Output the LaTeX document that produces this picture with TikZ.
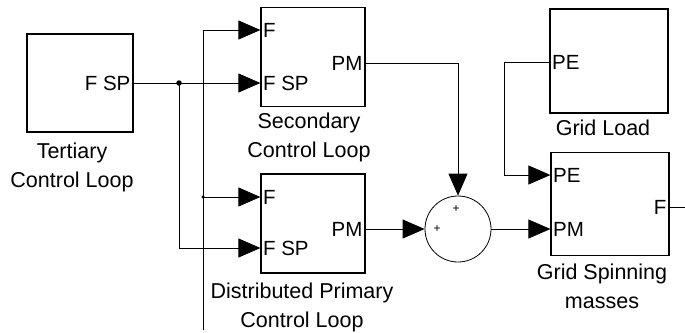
\documentclass[tikz,border=0pt]{standalone}
\usepackage{fontspec}
\setmainfont{Liberation Sans}
\usetikzlibrary{arrows.meta, positioning}

\begin{document}
\begin{tikzpicture}[
    x=1pt, y=-1pt,
    block/.style={rectangle, draw, line width=1.2pt, inner sep=0pt},
    portin/.style={anchor=west, inner sep=2.5pt, font=\fontsize{20.5}{22}\selectfont},
    portout/.style={anchor=east, inner sep=3pt, font=\fontsize{20.5}{22}\selectfont},
    caption/.style={align=center, anchor=north, inner sep=0pt, font=\fontsize{21.5}{29}\selectfont},
    sig/.style={line width=0.8pt, -{Triangle[length=22pt, width=19pt]}},
    wire/.style={line width=0.8pt},
    dot/.style={circle, fill, inner sep=0pt, minimum size=5.5pt},
  ]
    \useasboundingbox (0,0) rectangle (685,332);

    % blocks
    \node[block, minimum width=106pt, minimum height=98pt] (tert) at (80,83) {};
    \node[block, minimum width=104pt, minimum height=99pt] (sec) at (313,57) {};
    \node[block, minimum width=104pt, minimum height=99pt] (prim) at (313,223.5) {};
    \node[block, minimum width=118pt, minimum height=104pt] (load) at (609,61) {};
    \node[block, minimum width=118pt, minimum height=103pt] (spin) at (610,204) {};
    \node[circle, draw, line width=0.8pt, minimum size=66pt, inner sep=0pt] (sum) at (458,229) {};
    \node[font=\fontsize{12}{12}\selectfont, inner sep=0pt] (plusN) at (456,209) {+};
    \node[font=\fontsize{12}{12}\selectfont, inner sep=0pt] (plusW) at (437,229) {+};

    % ports
    \node[portout] (tertFSP) at (tert.east |- 0,83) {F SP};
    \node[portin] (secF) at (sec.west |- 0,30) {F};
    \node[portin] (secFSP) at (sec.west |- 0,83) {F SP};
    \node[portout] (secPM) at (sec.east |- 0,63) {PM};
    \node[portin] (primF) at (prim.west |- 0,197) {F};
    \node[portin] (primFSP) at (prim.west |- 0,248) {F SP};
    \node[portout] (primPM) at (prim.east |- 0,229) {PM};
    \node[portin] (loadPE) at (load.west |- 0,62) {PE};
    \node[portin] (spinPE) at (spin.west |- 0,175) {PE};
    \node[portin] (spinPM) at (spin.west |- 0,229) {PM};
    \node[portout] (spinF) at (spin.east |- 0,207) {F};

    % captions
    \node[caption] (tertLbl) at (72,143) {Tertiary\\Control Loop};
    \node[caption] (secLbl) at (309,113) {Secondary\\Control Loop};
    \node[caption] (primLbl) at (302,283) {Distributed Primary\\Control Loop};
    \node[caption] (loadLbl) at (603,120) {Grid Load};
    \node[caption] (spinLbl) at (602,264) {Grid Spinning\\masses};

    % signals
    \coordinate (j1) at (179,83);
    \coordinate (j2) at (203,197);
    \coordinate (fb) at (203,330);
    \coordinate (fout) at (685,207);
    \draw[sig] (tertFSP.east) -- (secFSP.west);
    \draw[sig] (j1) |- (primFSP.west);
    \draw[sig] (fb) |- (secF.west);
    \draw[sig] (j2) -- (primF.west);
    \node[dot] at (j1) {};
    \node[dot, minimum size=3.5pt] at (j2) {};
    \draw[sig] (secPM.east) -| (sum.north);
    \draw[sig] (primPM.east) -- (sum.west);
    \draw[sig] (sum.east) -- (spinPM.west);
    \draw[sig] (loadPE.west) -- ++(-45,0) |- (spinPE.west);
    \draw[wire] (spinF.east) -- (fout);
\end{tikzpicture}
\end{document}
